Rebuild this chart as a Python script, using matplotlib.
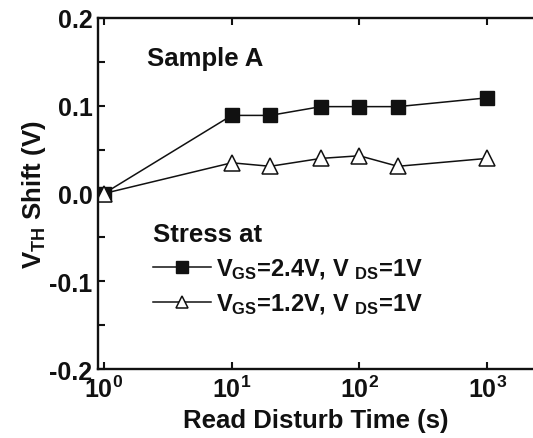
import matplotlib
matplotlib.use("Agg")
import matplotlib.pyplot as plt
import numpy as np

plt.rcParams['font.family'] = ['Liberation Sans', 'DejaVu Sans']
plt.rcParams['font.weight'] = 'bold'
plt.rcParams['mathtext.fontset'] = 'custom'
plt.rcParams['mathtext.rm'] = 'Liberation Sans:bold'
plt.rcParams['mathtext.bf'] = 'Liberation Sans:bold'
plt.rcParams['mathtext.it'] = 'Liberation Sans:bold'

time_s = [1, 10, 20, 50, 100, 200, 1000]
shift_24 = [0.0, 0.089, 0.089, 0.099, 0.099, 0.099, 0.109]
shift_12 = [0.0, 0.035, 0.031, 0.040, 0.043, 0.031, 0.040]
label_24 = r'V$_{\mathbf{GS}}$=2.4V, V $_{\mathbf{DS}}$=1V'
label_12 = r'V$_{\mathbf{GS}}$=1.2V, V $_{\mathbf{DS}}$=1V'
xticks = [1, 10, 100, 1000]
xticklabels = [r'$\mathbf{10^{0}}$', r'$\mathbf{10^{1}}$', r'$\mathbf{10^{2}}$', r'$\mathbf{10^{3}}$']
yticks = [-0.2, -0.1, 0.0, 0.1, 0.2]
yticklabels = ['-0.2', '-0.1', '0.0', '0.1', '0.2']

INK = '#111111'
fig = plt.figure(figsize=(5.33, 4.39), dpi=100)
ax = fig.add_axes([98/533, 69/439, 1 - 98/533, (370-19)/439])

ax.plot(time_s, shift_24, '-', color=INK, lw=1.1, marker='s', ms=10,
        mfc=INK, mec=INK, label=label_24)
ax.plot(time_s, shift_12, '-', color=INK, lw=1.1, marker='^', ms=11,
        mfc='white', mec=INK, mew=1.1, label=label_12)

ax.set_xscale('log')
ax.set_xlim(10**(-6/127.7), 10**((533-104)/127.7))
ax.set_ylim(-0.2, 0.2)
ax.set_xticks(xticks)
ax.set_xticklabels(xticklabels, fontsize=18)
ax.xaxis.set_minor_locator(matplotlib.ticker.NullLocator())
ax.set_yticks(yticks)
ax.set_yticklabels(yticklabels, fontsize=18, fontweight='bold')
ax.set_yticks([-0.15, -0.05, 0.05, 0.15], minor=True)

for s in ['left', 'bottom', 'top']:
    ax.spines[s].set_linewidth(1.7)
    ax.spines[s].set_color(INK)
ax.spines['right'].set_visible(False)
ax.tick_params(which='both', direction='in', length=5, width=1.5, top=True,
               right=False, color=INK, labelcolor=INK)
ax.tick_params(axis='x', pad=5)
ax.tick_params(axis='y', pad=4)

ax.set_xlabel('Read Disturb Time (s)', fontsize=18.5, fontweight='bold', color=INK, labelpad=4)
ax.set_ylabel(r'V$_{\mathbf{TH}}$ Shift (V)', fontsize=18.5, fontweight='bold', color=INK, labelpad=1)

ax.text(0.112, 0.885, 'Sample A', transform=ax.transAxes, fontsize=18.5,
        fontweight='bold', color=INK, va='center', ha='left')

leg = ax.legend(loc='upper left', bbox_to_anchor=(0.127, 0.42), frameon=False,
                title='Stress at', fontsize=17, title_fontsize=18.5,
                handlelength=2.45, handletextpad=0.2, borderaxespad=0,
                labelspacing=0.45, alignment='left', borderpad=0)
leg.get_title().set_fontweight('bold')
for t in leg.get_texts():
    t.set_color(INK)
leg.get_title().set_color(INK)
for h in leg.legend_handles:
    h.set_markersize(9)

fig.savefig('out.png', dpi=100)
